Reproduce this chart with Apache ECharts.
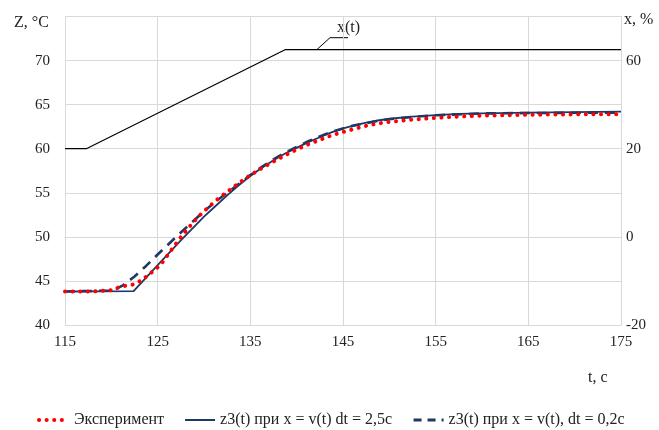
<!DOCTYPE html>
<html><head><meta charset="utf-8">
<script src="https://cdn.jsdelivr.net/npm/echarts@6/dist/echarts.min.js"></script>
<style>html,body{margin:0;padding:0;background:#fff}#c{width:659px;height:430px}</style>
</head><body><div id="c"></div>
<script>
// Time axis ticks
const xTicks = [115, 125, 135, 145, 155, 165, 175];
// Left axis (Z, °C)
const leftTicks = [40, 45, 50, 55, 60, 65, 70];
// Right axis tick labels as printed (value position -> text)
const rightTickPositions = [-20, 0, 20, 40];
const rightTickTexts = ['-20', '0', '20', '60'];

// Experiment (dotted red): [t, Z]
const experiment = [
  [115, 43.8], [118, 43.8], [120, 43.95], [121, 44.35], [122.4, 44.6], [123.3, 45.1],
  [124.5, 46.1], [125.3, 46.8], [126.2, 48.1], [127.3, 49.7], [128.3, 51.0], [129.4, 52.3],
  [130.5, 53.4], [131.5, 54.3], [132.5, 55.1], [133.75, 56.1], [135, 57.0], [136.25, 57.8],
  [137.5, 58.55], [138.75, 59.25], [140, 59.9], [141.25, 60.5], [142.5, 61.0], [143.75, 61.5],
  [145, 61.9], [146.25, 62.25], [147.5, 62.6], [148.75, 62.85], [150, 63.05], [152.5, 63.3],
  [155, 63.5], [157.5, 63.65], [160, 63.75], [165, 63.85], [170, 63.9], [175, 63.9]
];
// z3(t), dt = 2.5c (solid navy)
const z3dt25 = [
  [115, 43.8], [122.4, 43.85], [125, 46.8], [127.5, 49.6], [130, 52.3], [131.25, 53.5],
  [132.5, 54.7], [133.75, 55.85], [135, 56.9], [136.25, 57.85], [137.5, 58.7], [138.75, 59.45],
  [140, 60.1], [141.25, 60.75], [142.5, 61.3], [143.75, 61.85], [145, 62.3], [146.25, 62.65],
  [147.5, 62.95], [148.75, 63.2], [150, 63.4], [152.5, 63.65], [155, 63.8], [157.5, 63.95],
  [160, 64.0], [165, 64.1], [170, 64.15], [175, 64.2]
];
// z3(t), dt = 0.2c (dashed navy)
const z3dt02 = [
  [115, 43.8], [119.7, 43.9], [120.5, 44.1], [121.25, 44.5], [122.5, 45.5], [123.75, 46.7],
  [125, 48.0], [127.5, 50.5], [130, 52.9], [131.25, 54.0], [132.5, 55.0], [133.75, 56.0],
  [135, 57.0], [136.25, 57.95], [137.5, 58.8], [138.75, 59.55], [140, 60.2], [141.25, 60.85],
  [142.5, 61.4], [143.75, 61.9], [145, 62.3], [146.25, 62.65], [147.5, 62.9], [148.75, 63.15],
  [150, 63.35], [152.5, 63.6], [155, 63.8], [160, 64.0], [165, 64.05], [175, 64.1]
];
// x(t) on right axis
const xSignal = [[115, 20], [117.3, 20], [138.8, 42.5], [175, 42.5]];

const serif = 'Liberation Serif';
const navy = '#1f3864';
const grid = {left: 65, right: 38, top: 16.5, bottom: 105};
const chart = echarts.init(document.getElementById('c'), null, {renderer: 'canvas'});
chart.setOption({
  animation: false,
  grid: grid,
  legend: {
    top: 407, left: 32, itemWidth: 30, itemHeight: 10, itemGap: 20,
    itemStyle: {opacity: 0},
    textStyle: {fontFamily: serif, fontSize: 16, color: '#222'},
    data: [
      {name: 'Эксперимент', lineStyle: {width: 4, type: [0.1, 7.5], cap: 'round', color: '#ff0000'}},
      {name: 'z3(t) при x = v(t) dt = 2,5c', lineStyle: {width: 2, color: navy}},
      {name: 'z3(t) при x = v(t), dt = 0,2c', lineStyle: {width: 3, type: [8, 6], color: navy}}
    ]
  },
  xAxis: {
    type: 'value', min: xTicks[0], max: xTicks[xTicks.length - 1], interval: 10,
    axisLine: {show: true, lineStyle: {color: '#d9d9d9'}},
    axisTick: {show: false},
    axisLabel: {fontFamily: serif, fontSize: 15, color: '#222', margin: 10},
    splitLine: {show: true, lineStyle: {color: '#d9d9d9', width: 1}}
  },
  yAxis: [{
    type: 'value', min: 40, max: 75, interval: 5,
    axisLine: {show: true, lineStyle: {color: '#d9d9d9'}},
    axisTick: {show: false},
    axisLabel: {fontFamily: serif, fontSize: 15, color: '#222', margin: 15,
      formatter: v => leftTicks.indexOf(v) >= 0 ? String(v) : ''},
    splitLine: {show: true, lineStyle: {color: '#d9d9d9', width: 1}}
  }, {
    type: 'value', min: -20, max: 50, interval: 10, position: 'right',
    axisLine: {show: true, lineStyle: {color: '#d9d9d9'}},
    axisTick: {show: false},
    axisLabel: {fontFamily: serif, fontSize: 15, color: '#222', margin: 5,
      formatter: v => { const i = rightTickPositions.indexOf(v); return i >= 0 ? rightTickTexts[i] : ''; }},
    splitLine: {show: false}
  }],
  series: [{
    name: 'x(t)', type: 'line', yAxisIndex: 1, data: xSignal, symbol: 'none',
    lineStyle: {color: '#000', width: 1.2}, itemStyle: {color: '#000'}, z: 2
  }, {
    name: 'z3(t) при x = v(t) dt = 2,5c', type: 'line', data: z3dt25, symbol: 'none',
    lineStyle: {color: navy, width: 1.8}, itemStyle: {color: navy}, z: 3
  }, {
    name: 'z3(t) при x = v(t), dt = 0,2c', type: 'line', data: z3dt02, symbol: 'none',
    lineStyle: {color: navy, width: 2.6, type: [10, 7]}, itemStyle: {color: navy}, z: 4
  }, {
    name: 'Эксперимент', type: 'line', data: experiment, symbol: 'none',
    lineStyle: {color: '#ff0000', width: 4, type: [0.1, 7.5], cap: 'round'},
    itemStyle: {color: '#ff0000'}, z: 5
  }],
  graphic: [
    {type: 'text', left: 14, top: 15, style: {text: 'Z, °C', font: '16px "Liberation Serif"', fill: '#222'}},
    {type: 'text', left: 624, top: 12, style: {text: 'x, %', font: '16px "Liberation Serif"', fill: '#222'}},
    {type: 'text', left: 588, top: 370, style: {text: 't, c', font: '16px "Liberation Serif"', fill: '#222'}},
    {type: 'polyline', shape: {points: [[317, 49.5], [330, 37.7], [348, 37.7]]}, style: {stroke: '#000', lineWidth: 1, fill: null}},
    {type: 'text', left: 337, top: 20, style: {text: 'x(t)', font: '16px "Liberation Serif"', fill: '#222'}}
  ]
});
</script></body></html>
